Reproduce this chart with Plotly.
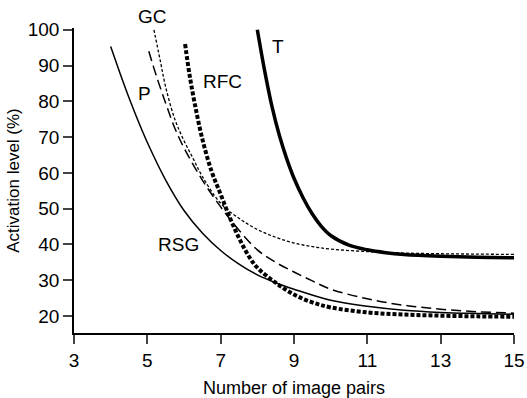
import plotly.graph_objects as go

# Read values
rsg_x = [4.0, 4.25, 4.5, 4.75, 5.0, 5.5, 6.0, 6.5, 7.0, 7.5, 8.0, 8.5, 9.0, 10.0, 11.0, 12.0, 13.0, 14.0, 15.0]
rsg_y = [95.3, 88, 81, 74.5, 68.5, 58, 49.5, 43.2, 38.3, 34.5, 31.5, 29.3, 27.5, 24.4, 22.7, 21.6, 21.0, 20.7, 20.5]

p_x = [5.04, 5.25, 5.5, 5.75, 6.0, 6.5, 7.0, 7.5, 8.0, 8.5, 9.0, 9.5, 10.0, 11.0, 12.0, 13.0, 14.0, 15.0]
p_y = [94, 87, 79.5, 72.5, 67, 58, 50.5, 44, 38.5, 35, 32.3, 29.8, 27.5, 24.8, 23, 21.9, 21.2, 20.8]

gc_x = [5.18, 5.35, 5.5, 5.75, 6.0, 6.25, 6.5, 7.0, 7.5, 8.0, 8.5, 9.0, 9.5, 10.0, 11.0, 12.0, 13.0, 14.0, 15.0]
gc_y = [100, 91.5, 84, 75, 69, 64, 59, 51.5, 47.3, 44.2, 42, 40.4, 39.4, 38.7, 38, 37.6, 37.4, 37.3, 37.2]

rfc_x = [6.03, 6.15, 6.3, 6.5, 6.75, 7.0, 7.25, 7.5, 7.75, 8.0, 8.5, 9.0, 9.5, 10.0, 11.0, 12.0, 13.0, 14.0, 15.0]
rfc_y = [96, 87.5, 79, 69.5, 60.5, 54, 47.5, 41.8, 37, 33.5, 29.3, 26, 23.8, 22.4, 21, 20.4, 20.1, 19.9, 19.8]

t_x = [8.0, 8.2, 8.4, 8.6, 8.8, 9.0, 9.25, 9.5, 9.75, 10.0, 10.5, 11.0, 11.5, 12.0, 13.0, 14.0, 15.0]
t_y = [100, 88.5, 78.5, 70.5, 64, 58.5, 53, 48.5, 45, 42.5, 39.8, 38.5, 37.7, 37.2, 36.7, 36.4, 36.3]

labels = ["GC", "P", "RFC", "T", "RSG"]
label_x = [5.15, 4.92, 7.05, 8.55, 5.84]
label_y = [103.6, 82.3, 85.5, 95.3, 40.1]

x_ticks = [3, 5, 7, 9, 11, 13, 15]
y_ticks = [20, 30, 40, 50, 60, 70, 80, 90, 100]

x_range = [3, 15]
y_range = [15.25, 100.5]

FONT = "Liberation Sans, Arial, sans-serif"

fig = go.Figure()
fig.add_trace(go.Scatter(x=rsg_x, y=rsg_y, mode="lines", line=dict(color="black", width=1.5, shape="spline")))
fig.add_trace(go.Scatter(x=p_x, y=p_y, mode="lines", line=dict(color="black", width=1.5, dash="10px,5px", shape="spline")))
fig.add_trace(go.Scatter(x=gc_x, y=gc_y, mode="lines", line=dict(color="black", width=1.3, dash="3px,2px", shape="spline")))
fig.add_trace(go.Scatter(x=rfc_x, y=rfc_y, mode="lines", line=dict(color="black", width=4, dash="4px,2px", shape="spline")))
fig.add_trace(go.Scatter(x=t_x, y=t_y, mode="lines", line=dict(color="black", width=3.5, shape="spline")))

for lab, lx, ly in zip(labels, label_x, label_y):
    if ly > y_range[1]:
        yref, yv = "paper", (ly - y_range[0]) / (y_range[1] - y_range[0])
    else:
        yref, yv = "y", ly
    fig.add_annotation(x=lx, y=yv, text=lab, showarrow=False, xref="x", yref=yref,
                       xanchor="center", yanchor="middle",
                       font=dict(family=FONT, size=19, color="black"))

fig.update_layout(
    width=527, height=398,
    margin=dict(l=74, r=13, t=28, b=65),
    paper_bgcolor="white", plot_bgcolor="white",
    showlegend=False,
    font=dict(family=FONT, size=19, color="black"),
)
fig.update_xaxes(range=x_range, tickvals=x_ticks, ticks="outside", ticklen=9, tickwidth=1.5,
                 showline=True, linecolor="black", linewidth=1.5, showgrid=False, zeroline=False,
                 automargin=False,
                 title=dict(text="Number of image pairs", font=dict(size=18), standoff=12),
                 tickfont=dict(size=19))
fig.update_yaxes(range=y_range, tickvals=y_ticks, ticks="outside", ticklen=9, tickwidth=1.5,
                 showline=True, linecolor="black", linewidth=1.5, showgrid=False, zeroline=False,
                 automargin=False,
                 title=dict(text="Activation level (%)", font=dict(size=17), standoff=4),
                 tickfont=dict(size=19))

fig.write_html("out.html")
